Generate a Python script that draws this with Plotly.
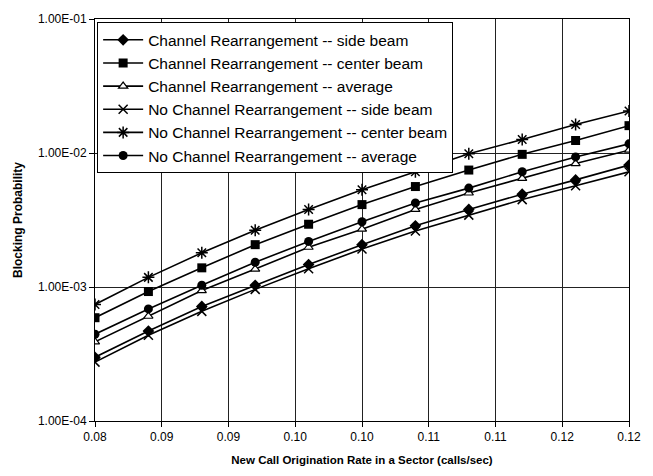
import plotly.graph_objects as go

x_rate = [0.080, 0.084, 0.088, 0.092, 0.096, 0.100, 0.104, 0.108, 0.112, 0.116, 0.120]

cr_side = [2.99e-4, 4.69e-4, 7.16e-4, 1.03e-3, 1.47e-3, 2.07e-3, 2.86e-3, 3.79e-3, 4.93e-3, 6.30e-3, 8.13e-3]
cr_center = [5.9e-4, 9.25e-4, 1.39e-3, 2.07e-3, 2.94e-3, 4.12e-3, 5.62e-3, 7.46e-3, 9.77e-3, 1.24e-2, 1.60e-2]
cr_avg = [3.9e-4, 6.05e-4, 9.4e-4, 1.36e-3, 1.98e-3, 2.70e-3, 3.79e-3, 5.03e-3, 6.47e-3, 8.34e-3, 1.05e-2]
ncr_side = [2.75e-4, 4.36e-4, 6.58e-4, 9.6e-4, 1.37e-3, 1.92e-3, 2.62e-3, 3.44e-3, 4.49e-3, 5.69e-3, 7.24e-3]
ncr_center = [7.4e-4, 1.18e-3, 1.80e-3, 2.65e-3, 3.79e-3, 5.32e-3, 7.24e-3, 9.88e-3, 1.26e-2, 1.63e-2, 2.06e-2]
ncr_avg = [4.44e-4, 6.86e-4, 1.03e-3, 1.53e-3, 2.19e-3, 3.07e-3, 4.24e-3, 5.47e-3, 7.24e-3, 9.35e-3, 1.17e-2]

series_names = [
    "Channel Rearrangement -- side beam",
    "Channel Rearrangement -- center beam",
    "Channel Rearrangement -- average",
    "No Channel Rearrangement -- side beam",
    "No Channel Rearrangement -- center beam",
    "No Channel Rearrangement -- average",
]
series_values = [cr_side, cr_center, cr_avg, ncr_side, ncr_center, ncr_avg]

x_tickvals = [0.080, 0.085, 0.090, 0.095, 0.100, 0.105, 0.110, 0.115, 0.120]
x_ticktext = ["0.08", "0.09", "0.09", "0.10", "0.10", "0.11", "0.11", "0.12", "0.12"]
y_tickvals = [1e-4, 1e-3, 1e-2, 1e-1]
y_ticktext = ["1.00E-04", "1.00E-03", "1.00E-02", "1.00E-01"]

marker_styles = [
    dict(symbol="diamond", size=9, color="black"),
    dict(symbol="square", size=9, color="black"),
    dict(symbol="triangle-up", size=8, color="white", line=dict(color="black", width=1.2)),
    dict(symbol="x-thin-open", size=9, color="black", line=dict(color="black", width=1.5)),
    dict(symbol="asterisk-open", size=10, color="black", line=dict(color="black", width=1.5)),
    dict(symbol="circle", size=9, color="black"),
]

fig = go.Figure()
for name, vals, mk in zip(series_names, series_values, marker_styles):
    fig.add_trace(go.Scatter(
        x=x_rate, y=vals, name=name, mode="lines+markers",
        line=dict(color="black", width=1.6),
        marker=mk,
    ))

font_family = "Liberation Sans, Arial, sans-serif"
fig.update_layout(
    width=653, height=476,
    margin=dict(l=95, r=20, t=15, b=53),
    paper_bgcolor="white", plot_bgcolor="white",
    font=dict(family=font_family, color="black", size=12),
    showlegend=True,
    legend=dict(
        x=0.004, y=0.992, xanchor="left", yanchor="top",
        bgcolor="white", bordercolor="black", borderwidth=1,
        font=dict(size=15.5, family=font_family, color="black"),
        itemwidth=40, tracegroupgap=0,
    ),
    xaxis=dict(
        range=[0.080, 0.120], tickmode="array",
        tickvals=x_tickvals, ticktext=x_ticktext,
        showgrid=True, gridcolor="#222", gridwidth=1,
        showline=True, linecolor="black", linewidth=1, mirror=True,
        ticks="outside", ticklen=5, tickcolor="black",
        zeroline=False,
        tickfont=dict(size=12),
        title=dict(text="<b>New Call Origination Rate in a Sector (calls/sec)</b>",
                   font=dict(size=11.5), standoff=12),
    ),
    yaxis=dict(
        type="log", range=[-4, -1], tickmode="array",
        tickvals=y_tickvals, ticktext=y_ticktext,
        showgrid=True, gridcolor="#222", gridwidth=1,
        showline=True, linecolor="black", linewidth=1, mirror=True,
        ticks="outside", ticklen=5, tickcolor="black",
        zeroline=False,
        tickfont=dict(size=12),
        title=dict(text="<b>Blocking Probability</b>", font=dict(size=12), standoff=12),
    ),
)

fig.write_html("out.html")
